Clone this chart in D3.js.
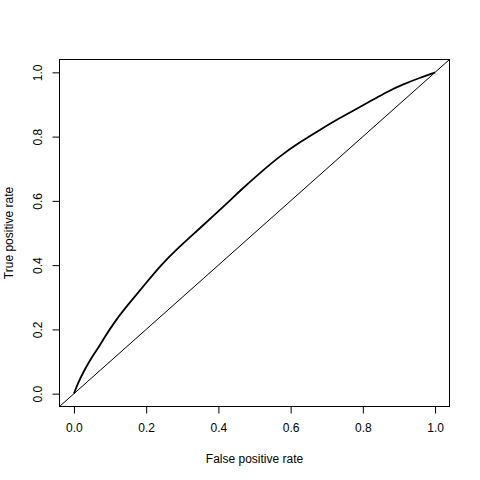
<!DOCTYPE html>
<html>
<head>
<meta charset="utf-8">
<script src="https://cdn.jsdelivr.net/npm/d3@7"></script>
<style>
  html, body { margin: 0; padding: 0; background: #fff; }
  svg { display: block; }
  text { font-family: "Liberation Sans", Arial, sans-serif; font-size: 12px; fill: #000; }
</style>
</head>
<body>
<svg id="chart" width="480" height="480"></svg>
<script>
// ROC curve values
const fpr = [0, 0.01, 0.028, 0.05, 0.069, 0.083, 0.115, 0.152, 0.198, 0.244, 0.29, 0.336, 0.38, 0.424, 0.46, 0.516, 0.571, 0.626, 0.681, 0.736, 0.787, 0.83, 0.866, 0.91, 0.958, 1.0];
const tpr = [0, 0.03, 0.072, 0.115, 0.145, 0.172, 0.228, 0.28, 0.342, 0.404, 0.455, 0.502, 0.547, 0.592, 0.632, 0.688, 0.74, 0.783, 0.821, 0.858, 0.889, 0.916, 0.939, 0.962, 0.983, 1.0];
const xTicks = [0, 0.2, 0.4, 0.6, 0.8, 1.0];
const yTicks = [0, 0.2, 0.4, 0.6, 0.8, 1.0];
const xTitle = "False positive rate";
const yTitle = "True positive rate";

const svg = d3.select("#chart");
const box = { left: 59.5, right: 449.5, top: 59.5, bottom: 406.5 };

const x = d3.scaleLinear().domain([-0.04, 1.04]).range([box.left, box.right]);
const y = d3.scaleLinear().domain([-0.04, 1.04]).range([box.bottom, box.top]);

svg.append("defs").append("clipPath").attr("id", "clip")
  .append("rect").attr("x", box.left).attr("y", box.top)
  .attr("width", box.right - box.left).attr("height", box.bottom - box.top);

// diagonal reference line
svg.append("line")
  .attr("clip-path", "url(#clip)")
  .attr("x1", x(-0.04)).attr("y1", y(-0.04))
  .attr("x2", x(1.04)).attr("y2", y(1.04))
  .attr("stroke", "#000").attr("stroke-width", 1);

// ROC curve
const pts = fpr.map((f, i) => [f, tpr[i]]);
svg.append("path")
  .datum(pts)
  .attr("clip-path", "url(#clip)")
  .attr("fill", "none")
  .attr("stroke", "#000")
  .attr("stroke-width", 1.8)
  .attr("d", d3.line().x(d => x(d[0])).y(d => y(d[1])).curve(d3.curveBasis));

// box
svg.append("rect")
  .attr("x", box.left).attr("y", box.top)
  .attr("width", box.right - box.left).attr("height", box.bottom - box.top)
  .attr("fill", "none").attr("stroke", "#000").attr("stroke-width", 1);

// x axis
const xAxis = d3.axisBottom(x).tickValues(xTicks).tickSize(7).tickPadding(10)
  .tickFormat(d3.format(".1f"));
const gx = svg.append("g").attr("transform", `translate(0,${box.bottom})`).call(xAxis);
gx.select(".domain").attr("d", `M${x(0)},0H${x(1)}`);
gx.selectAll("text").style("font-size", "12px").attr("fill", "#000");

// y axis
const yAxis = d3.axisLeft(y).tickValues(yTicks).tickSize(7).tickPadding(0)
  .tickFormat(d3.format(".1f"));
const gy = svg.append("g").attr("transform", `translate(${box.left},0)`).call(yAxis);
gy.select(".domain").attr("d", `M0,${y(0)}V${y(1)}`);
gy.selectAll(".tick text")
  .attr("x", null).attr("dy", null)
  .attr("text-anchor", "middle")
  .attr("transform", "translate(-17.5,0) rotate(-90)")
  .attr("y", 0)
  .style("font-size", "12px").attr("fill", "#000");

// titles
svg.append("text").attr("x", (box.left + box.right) / 2).attr("y", 462.5)
  .attr("text-anchor", "middle").text(xTitle);
svg.append("text")
  .attr("transform", `translate(13,${(box.top + box.bottom) / 2}) rotate(-90)`)
  .attr("text-anchor", "middle").text(yTitle);
</script>
</body>
</html>
